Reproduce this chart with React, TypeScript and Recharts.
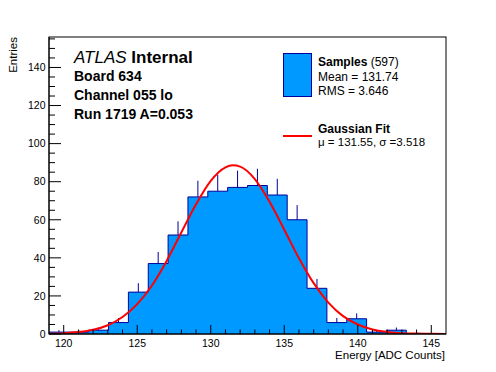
import React from 'react'
import { ComposedChart, Area, Line, Scatter, ErrorBar, XAxis, YAxis } from 'recharts'

// histogram bins (ADC counts)
const binEdges = [119, 120.35, 121.7, 123.05, 124.4, 125.75, 127.1, 128.45, 129.8, 131.15, 132.5,
  133.85, 135.2, 136.55, 137.9, 139.25, 140.6, 141.95, 143.3, 144.65, 146]
const binCounts = [1, 1, 2, 6, 22, 37, 52, 72, 75, 77, 78, 73, 60, 24, 6, 8, 1, 2, 0, 0]
const binErrors = [1, 1, 1.4, 2.4, 4.7, 6.1, 7.2, 8.5, 8.7, 8.8, 8.8, 8.5, 7.7, 4.9, 2.4, 2.8, 1, 1.4, 0, 0]

// gaussian fit curve
const fitX = [119, 120, 121, 122, 123, 124, 125, 126, 127, 128, 129, 130, 131, 131.5, 132, 133, 134,
  135, 136, 137, 138, 139, 140, 141, 142, 143, 144, 145, 146]
const fitY = [0.15, 0.4, 1.0, 2.2, 4.6, 8.9, 15.7, 25.5, 38.4, 53.3, 68.1, 80.4, 87.5, 88.6, 87.9, 81.4, 69.5,
  54.8, 39.8, 26.7, 16.5, 9.4, 5.0, 2.4, 1.1, 0.4, 0.2, 0.1, 0]

const xTicks = [120, 121, 122, 123, 124, 125, 126, 127, 128, 129, 130, 131, 132, 133, 134, 135, 136, 137,
  138, 139, 140, 141, 142, 143, 144, 145]
const yTicks = [0, 5, 10, 15, 20, 25, 30, 35, 40, 45, 50, 55, 60, 65, 70, 75, 80, 85, 90, 95, 100, 105,
  110, 115, 120, 125, 130, 135, 140, 145, 150, 155]

const W = 496, H = 372
const PL = 49, PR = 446, PT = 37, PB = 334
const FONT = '"Liberation Sans", Arial, Helvetica, sans-serif'
const FILL = '#0099ff', EDGE = '#000099', RED = '#ff0000'

const histData = binEdges.map((x, i) => ({ x, hist: binCounts[Math.min(i, binCounts.length - 1)] }))
const errData = binCounts
  .map((c, i) => ({ x: (binEdges[i] + binEdges[i + 1]) / 2, hist: c, err: [0, binErrors[i]] }))
  .filter(d => d.hist > 0)
const fitData = fitX.map((x, i) => ({ x, fit: fitY[i] }))

const YTick = ({ y, payload }: any) => {
  const major = payload.value % 20 === 0
  return (
    <g>
      <line x1={PL} x2={PL + (major ? 12 : 6)} y1={y} y2={y} stroke="#000" />
      {major && <text x={45.5} y={y} dy={3.8} textAnchor="end" fontSize={10.5} fontFamily={FONT} fill="#000">{payload.value}</text>}
    </g>
  )
}

const XTick = ({ x, payload }: any) => {
  const major = payload.value % 5 === 0
  return (
    <g>
      <line x1={x} x2={x} y1={PB} y2={PB - (major ? 9 : 4.5)} stroke="#000" />
      {major && <text x={x} y={346.5} textAnchor="middle" fontSize={10.5} fontFamily={FONT} fill="#000">{payload.value}</text>}
    </g>
  )
}

export default function App() {
  return (
    <div style={{ position: 'absolute', left: 0, top: 0, width: W, height: H, background: '#fff' }}>
      <ComposedChart width={W} height={H} margin={{ top: PT, right: W - PR, bottom: 8, left: 9 }}>
        <XAxis dataKey="x" type="number" domain={[119, 146]} ticks={xTicks} interval={0}
          tick={<XTick />} tickLine={false} axisLine={{ stroke: '#000' }} height={30} allowDataOverflow />
        <YAxis type="number" domain={[0, 156]} ticks={yTicks} interval={0}
          tick={<YTick />} tickLine={false} axisLine={{ stroke: '#000' }} width={40} allowDataOverflow />
        <Area data={histData} dataKey="hist" type="stepAfter" fill={FILL} fillOpacity={1}
          stroke={EDGE} strokeWidth={1} isAnimationActive={false} />
        <Scatter data={errData} dataKey="hist" shape={() => <g />} isAnimationActive={false}>
          <ErrorBar dataKey="err" direction="y" width={0} stroke={EDGE} strokeWidth={1} />
        </Scatter>
        <Line data={fitData} dataKey="fit" type="monotone" stroke={RED} strokeWidth={2}
          dot={false} isAnimationActive={false} />
      </ComposedChart>
      <svg width={W} height={H} style={{ position: 'absolute', left: 0, top: 0, pointerEvents: 'none' }}
        fontFamily={FONT}>
        <rect x={PL} y={PT} width={PR - PL} height={PB - PT} fill="none" stroke="#000" />
        <text x={16.5} y={PT} transform={`rotate(-90 16.5 ${PT})`} textAnchor="end" fontSize={11.5}>Entries</text>
        <text x={445} y={359} textAnchor="end" fontSize={11.5}>Energy [ADC Counts]</text>

        <text x={74} y={63} fontSize={17}>
          <tspan fontStyle="italic">ATLAS</tspan>
          <tspan fontWeight="bold"> Internal</tspan>
        </text>
        <text x={74} y={81} fontSize={14} fontWeight="bold">Board 634</text>
        <text x={74} y={100} fontSize={14} fontWeight="bold">Channel 055 lo</text>
        <text x={74} y={119} fontSize={14} fontWeight="bold">Run 1719 A=0.053</text>

        <rect x={283.5} y={53.5} width={28} height={43} fill={FILL} stroke={EDGE} />
        <text x={318} y={66} fontSize={12}>
          <tspan fontWeight="bold">Samples</tspan> (597)
        </text>
        <text x={318} y={81} fontSize={12}>Mean = 131.74</text>
        <text x={318} y={94.5} fontSize={12}>RMS = 3.646</text>
        <line x1={283} x2={312} y1={136} y2={136} stroke={RED} strokeWidth={2} />
        <text x={318} y={132.5} fontSize={12} fontWeight="bold">Gaussian Fit</text>
        <text x={318} y={146} fontSize={11.5}>μ = 131.55, σ =3.518</text>
      </svg>
    </div>
  )
}
